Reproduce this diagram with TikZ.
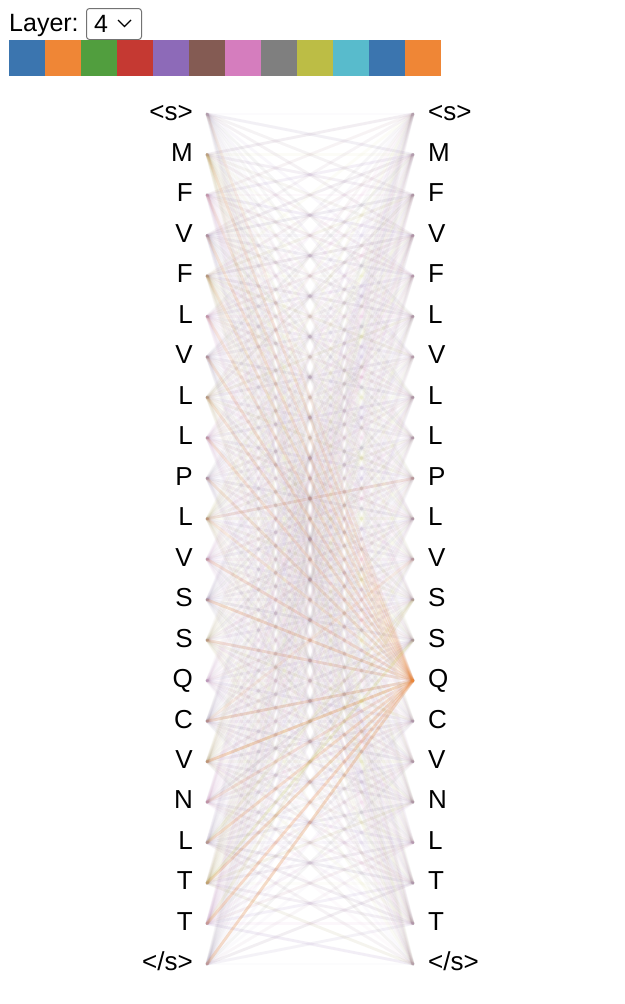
\documentclass[tikz,border=0pt]{standalone}
\usepackage{fontspec}
\setmainfont{Liberation Sans}
\definecolor{hc0}{HTML}{3B75AF}
\definecolor{hc1}{HTML}{EF8636}
\definecolor{hc2}{HTML}{519E3E}
\definecolor{hc3}{HTML}{C53932}
\definecolor{hc4}{HTML}{8D6AB8}
\definecolor{hc5}{HTML}{845B53}
\definecolor{hc6}{HTML}{D57DBE}
\definecolor{hc7}{HTML}{7F7F7F}
\definecolor{hc8}{HTML}{BCBD45}
\definecolor{hc9}{HTML}{58BBCC}
\definecolor{bg0}{HTML}{8D6AB8}
\definecolor{bg1}{HTML}{845B53}
\definecolor{bg2}{HTML}{D57DBE}
\definecolor{bg3}{HTML}{7F7F7F}
\definecolor{bg4}{HTML}{BCBD45}
\definecolor{bg5}{HTML}{9C7FB0}
\begin{document}
\begin{tikzpicture}[x=1pt,y=-1pt,
  font=\fontsize{26}{30}\selectfont,
  att/.style={line width=2.8pt, line cap=round},
  tok/.style={inner sep=0pt, text=black},
  swatch/.style={inner sep=0pt, minimum width=36pt, minimum height=36pt, anchor=north west}]
\useasboundingbox[fill=white] (0,0) rectangle (624,1004);
% header
\node[tok, anchor=base west, font=\fontsize{25}{30}\selectfont] (layerlbl) at (9,31) {Layer:};
\node[draw=black!55, line width=1pt, rounded corners=3pt, minimum width=55pt, minimum height=31pt, anchor=north west, inner sep=0pt] (sel) at (86,8) {};
\node[tok, anchor=base west, font=\fontsize{25}{30}\selectfont] (selval) at (94,32) {4};
\draw[line width=1.3pt, black] (118,20) -- (124.5,26.5) -- (131,20);
\foreach \c [count=\k from 0] in {hc0,hc1,hc2,hc3,hc4,hc5,hc6,hc7,hc8,hc9,hc0,hc1}
  \node[swatch, fill=\c] (sw\k) at (9+36*\k,40) {};
% token anchors and labels
\foreach \t [count=\i from 0] in {<s>,M,F,V,F,L,V,L,L,P,L,V,S,S,Q,C,V,N,L,T,T,</s>} {
  \coordinate (L\i) at (207,114+40.48*\i);
  \coordinate (R\i) at (413,114+40.48*\i);
  \node[tok, anchor=base east] (tl\i) at (193,114+40.48*\i+6.8) {\t};
  \node[tok, anchor=base west] (tr\i) at (428,114+40.48*\i+6.8) {\t};
}
% background attention (all heads, faint)
\pgfmathsetseed{1234}
\foreach \i in {0,...,21} {
  \foreach \j in {0,...,21} {
    \pgfmathsetmacro\o{0.02+0.04*rnd}
    \pgfmathtruncatemacro\c{mod(\i*7+\j*3,6)}
    \draw[att, draw=bg\c, draw opacity=\o] (L\i) -- (R\j);
  }
}
% structured heads: neighbours
\foreach \i in {0,...,21} {
  \foreach \d/\col/\op in {1/hc4/0.06,-1/hc4/0.06,2/hc5/0.045,-2/hc5/0.045,3/hc6/0.04,-3/hc6/0.04,5/hc7/0.035,-5/hc7/0.035} {
    \pgfmathtruncatemacro\j{\i+\d}
    \ifnum\j>-1 \ifnum\j<22
      \draw[att, draw=\col, draw opacity=\op] (L\i) -- (R\j);
    \fi\fi
  }
}
% head attending to Q
\foreach \i/\o in {0/0.08,1/0.12,2/0.1,3/0.14,4/0.11,5/0.13,6/0.15,7/0.13,8/0.14,9/0.13,10/0.11,11/0.15,12/0.18,13/0.15,15/0.18,16/0.24,17/0.13,18/0.2,19/0.21,20/0.23,21/0.24}
  \draw[att, draw=hc1, draw opacity=\o] (L\i) -- (R14);
% a few olive/orange extras
\foreach \i/\j/\col/\o in {19/13/hc8/0.16,18/12/hc8/0.11,10/9/hc1/0.1,15/11/hc1/0.09,17/13/hc7/0.09,20/12/hc8/0.1}
  \draw[att, draw=\col, draw opacity=\o] (L\i) -- (R\j);
\end{tikzpicture}
\end{document}
